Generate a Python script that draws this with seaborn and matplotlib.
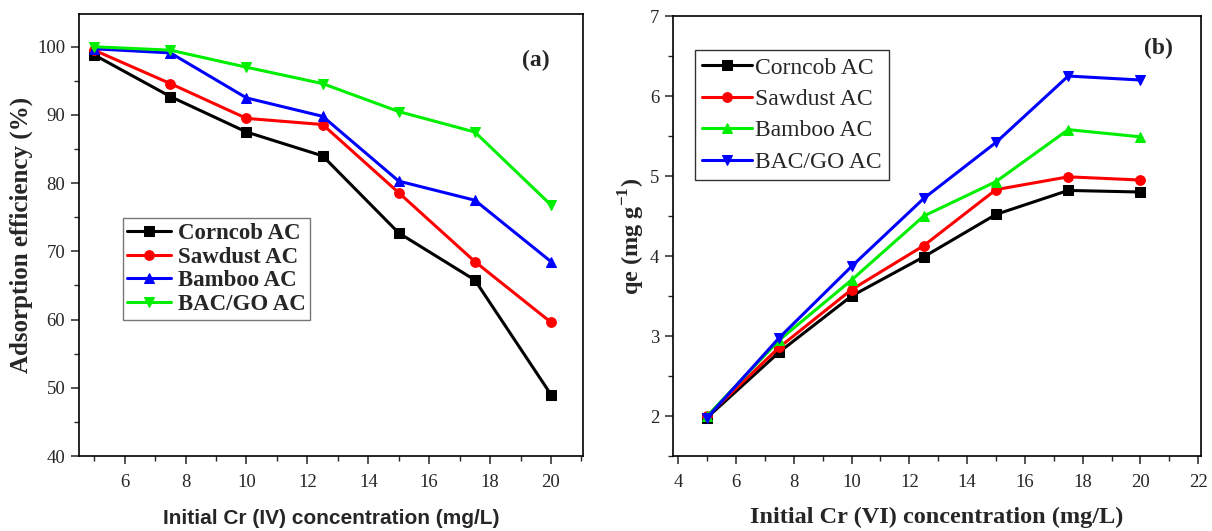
import matplotlib
matplotlib.use("Agg")
import matplotlib.pyplot as plt
import seaborn as sns
from matplotlib.ticker import MultipleLocator

conc = [5, 7.5, 10, 12.5, 15, 17.5, 20]
series_names = ["Corncob AC", "Sawdust AC", "Bamboo AC", "BAC/GO AC"]

eff_corncob = [98.8, 92.7, 87.5, 84.0, 72.7, 65.8, 49.0]
eff_sawdust = [99.5, 94.6, 89.5, 88.6, 78.6, 68.5, 59.6]
eff_bamboo = [99.7, 99.1, 92.5, 89.8, 80.3, 77.5, 68.5]
eff_bacgo = [100.0, 99.5, 97.0, 94.6, 90.5, 87.5, 76.8]

qe_corncob = [1.98, 2.80, 3.50, 3.99, 4.52, 4.82, 4.80]
qe_sawdust = [2.00, 2.86, 3.58, 4.13, 4.83, 4.99, 4.95]
qe_bamboo = [2.00, 2.95, 3.70, 4.50, 4.93, 5.58, 5.49]
qe_bacgo = [1.98, 2.98, 3.87, 4.72, 5.42, 6.25, 6.20]

sns.set_style("ticks")
plt.rcParams['font.family'] = ['Liberation Serif', 'DejaVu Serif']
plt.rcParams['mathtext.fontset'] = 'custom'
plt.rcParams['mathtext.rm'] = 'Liberation Serif'
plt.rcParams['mathtext.bf'] = 'Liberation Serif:bold'

fig = plt.figure(figsize=(12.12, 5.31), dpi=100)
axA = fig.add_axes([0.0652, 0.1412, 0.4158, 0.8324])
axB = fig.add_axes([0.5553, 0.1412, 0.4357, 0.8286])

markers = ["s", "o", "^", "v"]
colorsA = ["black", "red", "blue", "#00ee00"]
colorsB = ["black", "red", "#00ee00", "blue"]

for vals, name, m, c in zip([eff_corncob, eff_sawdust, eff_bamboo, eff_bacgo], series_names, markers, colorsA):
    sns.lineplot(x=conc, y=vals, ax=axA, color=c, marker=m, markersize=7,
                 markeredgecolor=c, linewidth=2.2, label=name)

for vals, name, m, c in zip([qe_corncob, qe_sawdust, qe_bamboo, qe_bacgo], series_names, markers, colorsB):
    sns.lineplot(x=conc, y=vals, ax=axB, color=c, marker=m, markersize=7,
                 markeredgecolor=c, linewidth=2.2, label=name)

for ax in (axA, axB):
    for s in ax.spines.values():
        s.set_linewidth(1.2)
        s.set_color("black")
    ax.tick_params(which="major", direction="out", length=6, width=1.1, labelsize=13.5,
                   top=False, right=False)
    ax.tick_params(axis="x", which="major", pad=7)
    ax.tick_params(axis="y", which="major", pad=4)
    ax.tick_params(which="minor", direction="out", length=3.5, width=1.0, top=False, right=False)
    ax.xaxis.set_minor_locator(MultipleLocator(1))

axA.set_xlim(4.5, 21.05)
axA.set_ylim(40, 104.8)
axA.set_xticks([6, 8, 10, 12, 14, 16, 18, 20])
axA.yaxis.set_major_locator(MultipleLocator(10))
axA.yaxis.set_minor_locator(MultipleLocator(5))
axA.set_xlabel("Initial Cr (IV) concentration (mg/L)", fontsize=15, fontweight="bold",
               family="Liberation Sans", labelpad=13)
axA.set_ylabel("Adsorption efficiency (%)", fontsize=18, fontweight="bold", labelpad=3)
axA.text(0.907, 0.896, "(a)", transform=axA.transAxes, fontsize=17, fontweight="bold",
         ha="center", va="center")
legA = axA.legend(loc="upper left", bbox_to_anchor=(0.087, 0.538), prop={"weight": "bold", "size": 16.5},
                  frameon=True, fancybox=False, edgecolor="#555555", handlelength=1.9,
                  handletextpad=0.3, borderpad=0.2, labelspacing=0.12, borderaxespad=0)
legA.get_frame().set_linewidth(1.0)

axB.set_xlim(3.82, 22.1)
axB.set_ylim(1.5, 7)
axB.xaxis.set_major_locator(MultipleLocator(2))
axB.yaxis.set_major_locator(MultipleLocator(1))
axB.yaxis.set_minor_locator(MultipleLocator(0.5))
axB.set_xlabel("Initial Cr (VI) concentration (mg/L)", fontsize=17.5, fontweight="bold", labelpad=11)
axB.set_ylabel(r"qe (mg g$^{\mathbf{-1}}$)", fontsize=17.5, fontweight="bold", labelpad=2)
axB.text(0.92, 0.927, "(b)", transform=axB.transAxes, fontsize=17, fontweight="bold",
         ha="center", va="center")
legB = axB.legend(loc="upper left", bbox_to_anchor=(0.042, 0.923), prop={"size": 17},
                  frameon=True, fancybox=False, edgecolor="black", handlelength=2.1,
                  handletextpad=0.15, borderpad=0.3, labelspacing=0.42, borderaxespad=0)
legB.get_frame().set_linewidth(1.0)

fig.savefig("out.png", dpi=100)
